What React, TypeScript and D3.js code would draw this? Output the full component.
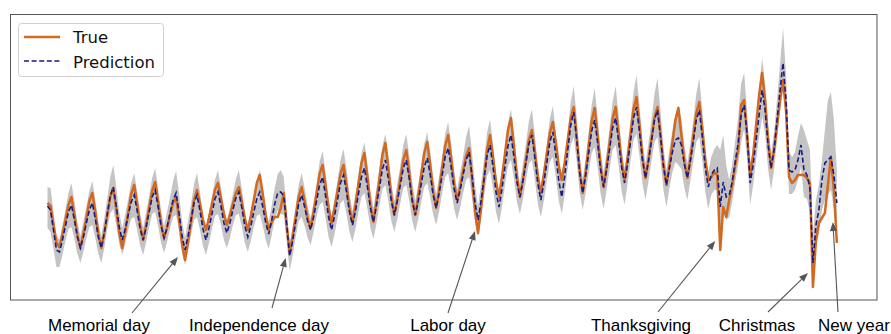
import React from 'react';
import * as d3 from 'd3';

// Daily series, starting Thu 2017-04-13 (one value per day)
const START = Date.UTC(2017, 3, 13);

const trueVals = [
  97, 94, 75, 57,
  53, 66, 80, 95, 103, 85, 65,
  52, 66, 82, 99, 107, 88, 66,
  52, 67, 85, 103, 112, 91, 67,
  52, 68, 87, 106, 115, 96, 74,
  60, 75, 92, 109, 118, 98, 76,
  62, 72, 85, 97, 103, 81, 56,
  40, 58, 78, 100, 110, 96, 80,
  70, 82, 96, 110, 117, 102, 86,
  75, 85, 96, 107, 113, 98, 81,
  70, 84, 100, 117, 125, 106, 84,
  70, 78, 83, 83, 92, 107, 75,
  47, 64, 83, 103, 113, 99, 82,
  72, 88, 107, 126, 135, 115, 92,
  77, 92, 109, 126, 135, 115, 92,
  77, 95, 116, 137, 147, 123, 95,
  78, 98, 121, 145, 157, 132, 103,
  85, 101, 121, 140, 150, 127, 101,
  85, 103, 125, 147, 158, 135, 108,
  92, 110, 132, 154, 165, 142, 116,
  100, 113, 129, 144, 152, 122, 88,
  67, 92, 121, 150, 165, 143, 118,
  103, 123, 146, 170, 182, 154, 123,
  103, 120, 140, 160, 170, 148, 123,
  107, 125, 146, 167, 178, 158, 134,
  120, 138, 160, 182, 193, 163, 129,
  107, 128, 154, 179, 192, 164, 133,
  113, 133, 157, 181, 193, 167, 138,
  120, 141, 166, 191, 203, 175, 142,
  122, 140, 161, 182, 193, 166, 135,
  115, 134, 157, 180, 192, 165, 138,
  122, 141, 164, 187, 198, 171, 140,
  120, 123, 128, 125, 50, 93, 83,
  100, 115, 135, 150, 195, 200, 165,
  125, 145, 175, 205, 227, 200, 160,
  132, 150, 175, 200, 220, 190, 123,
  117, 120, 125, 125, 125, 122, 117,
  13, 60, 77, 82, 87, 115, 143,
  110, 57,
];

const predVals = [
  94, 90, 70, 50,
  48, 60, 74, 88, 95, 80, 63,
  52, 63, 77, 90, 97, 81, 63,
  52, 67, 86, 104, 113, 94, 73,
  60, 71, 85, 98, 105, 89, 71,
  60, 73, 88, 103, 110, 93, 74,
  62, 73, 87, 100, 107, 87, 64,
  50, 64, 80, 97, 105, 89, 71,
  60, 72, 86, 101, 108, 94, 77,
  67, 77, 90, 102, 108, 92, 74,
  63, 74, 88, 101, 108, 93, 77,
  66, 80, 96, 107, 108, 104, 75,
  44, 59, 78, 96, 105, 93, 79,
  70, 83, 99, 115, 123, 104, 83,
  70, 84, 100, 117, 125, 108, 88,
  75, 89, 106, 123, 132, 113, 92,
  78, 94, 112, 131, 140, 121, 99,
  85, 99, 115, 132, 140, 121, 99,
  85, 99, 116, 133, 142, 125, 105,
  92, 107, 125, 143, 152, 133, 111,
  97, 110, 125, 140, 148, 124, 97,
  80, 99, 121, 144, 155, 133, 108,
  93, 111, 133, 154, 165, 143, 118,
  103, 119, 137, 156, 165, 142, 116,
  100, 117, 137, 158, 168, 145, 119,
  103, 124, 150, 175, 188, 160, 127,
  107, 125, 147, 169, 180, 157, 130,
  113, 130, 151, 172, 182, 159, 133,
  117, 136, 159, 182, 193, 168, 140,
  122, 139, 159, 180, 190, 164, 134,
  115, 132, 148, 160, 162, 155, 136,
  122, 139, 159, 180, 190, 163, 132,
  113, 125, 130, 132, 93, 118, 103,
  105, 118, 138, 157, 185, 195, 165,
  117, 135, 160, 185, 210, 190, 155,
  132, 150, 180, 210, 237, 200, 130,
  128, 130, 140, 155, 130, 125, 112,
  37, 75, 90, 120, 137, 140, 143,
  125, 97,
];

const upperVals = [
  113, 112, 89, 65,
  60, 75, 90, 107, 117, 99, 78,
  64, 78, 93, 109, 119, 100, 78,
  64, 82, 102, 123, 135, 113, 88,
  72, 86, 101, 117, 127, 108, 86,
  72, 88, 104, 122, 132, 112, 89,
  74, 88, 103, 119, 129, 106, 79,
  62, 79, 96, 116, 127, 108, 86,
  72, 87, 102, 120, 130, 113, 92,
  79, 92, 106, 121, 130, 111, 89,
  75, 89, 104, 120, 130, 112, 92,
  78, 95, 112, 126, 130, 123, 90,
  56, 74, 94, 115, 127, 112, 94,
  82, 98, 115, 138, 149, 127, 101,
  84, 101, 119, 140, 151, 131, 106,
  89, 106, 125, 146, 158, 136, 110,
  92, 111, 131, 154, 166, 144, 117,
  99, 116, 134, 155, 166, 144, 117,
  99, 116, 135, 156, 168, 148, 123,
  106, 124, 144, 166, 178, 156, 129,
  111, 127, 144, 163, 174, 147, 115,
  94, 116, 140, 167, 181, 156, 126,
  107, 128, 152, 177, 191, 166, 136,
  117, 136, 156, 179, 191, 165, 134,
  114, 134, 156, 181, 194, 168, 137,
  117, 141, 169, 198, 214, 183, 145,
  121, 142, 168, 195, 212, 183, 149,
  128, 148, 172, 198, 214, 185, 152,
  132, 154, 180, 208, 225, 194, 159,
  137, 157, 180, 206, 222, 190, 153,
  130, 150, 169, 186, 194, 181, 155,
  137, 157, 180, 206, 222, 189, 151,
  128, 143, 151, 155, 150, 165, 135,
  120, 136, 159, 183, 217, 227, 187,
  132, 153, 181, 211, 242, 216, 174,
  147, 168, 201, 236, 272, 226, 149,
  143, 148, 164, 177, 170, 160, 150,
  65, 100, 115, 140, 170, 200, 208,
  180, 130,
];

const lowerVals = [
  72, 68, 51, 33,
  33, 45, 59, 71, 73, 61, 46,
  37, 48, 62, 73, 75, 62, 46,
  37, 52, 71, 87, 91, 75, 56,
  45, 56, 70, 81, 83, 70, 54,
  45, 58, 73, 86, 88, 74, 57,
  47, 58, 72, 83, 85, 68, 47,
  35, 49, 65, 80, 83, 70, 54,
  45, 57, 71, 84, 86, 75, 60,
  52, 62, 75, 85, 86, 73, 57,
  48, 59, 73, 84, 86, 74, 60,
  51, 65, 81, 90, 86, 85, 58,
  29, 44, 63, 79, 83, 74, 62,
  55, 68, 84, 95, 98, 82, 63,
  53, 66, 82, 97, 100, 86, 68,
  58, 71, 88, 103, 107, 91, 72,
  61, 76, 94, 111, 115, 99, 79,
  68, 81, 97, 112, 115, 99, 79,
  68, 81, 98, 113, 117, 103, 85,
  75, 89, 107, 123, 127, 111, 91,
  80, 92, 107, 120, 123, 102, 77,
  63, 81, 103, 124, 130, 111, 88,
  76, 93, 115, 134, 140, 121, 98,
  86, 101, 119, 136, 140, 120, 96,
  83, 99, 119, 138, 143, 123, 99,
  86, 106, 132, 155, 163, 138, 107,
  90, 107, 127, 147, 153, 133, 106,
  91, 110, 131, 150, 155, 135, 109,
  95, 116, 139, 160, 166, 144, 116,
  100, 119, 139, 158, 163, 140, 110,
  93, 112, 128, 138, 135, 131, 112,
  100, 119, 139, 158, 163, 139, 108,
  91, 105, 110, 110, 68, 95, 80,
  83, 98, 118, 135, 158, 171, 141,
  95, 115, 140, 163, 183, 166, 131,
  110, 130, 160, 188, 210, 176, 106,
  106, 110, 120, 133, 103, 101, 88,
  15, 52, 66, 90, 100, 105, 110,
  92, 72,
];

const seriesLabels = ['True', 'Prediction'];

// Holiday annotations: label and the date of the dip the arrow points at
const holidayLabels = ['Memorial day', 'Independence day', 'Labor day', 'Thanksgiving', 'Christmas', 'New year'];
const holidayDates = ['2017-05-29', '2017-07-03', '2017-09-04', '2017-11-24', '2017-12-25', '2018-01-01'];

// Layout of annotation labels/arrows (pixels)
const annotLayout = [
  { lx: 99, tx: 132, ty: 313, dx: -7, dy: -3 },
  { lx: 259, tx: 272, ty: 308, dx: -4, dy: 5 },
  { lx: 448, tx: 448, ty: 313, dx: -3, dy: -2 },
  { lx: 641, tx: 658, ty: 312, dx: -5, dy: -9 },
  { lx: 757, tx: 768, ty: 312, dx: -5, dy: -14 },
  { lx: 854, tx: 838, ty: 312, dx: -1, dy: 32 },
];

const W = 891;
const H = 334;
const frame = { left: 10.5, top: 14.5, right: 877, bottom: 300 };

const ORANGE = '#d2691e';
const NAVY = '#1a1a80';
const BAND = '#c4c4c4';

export default function App() {
  const dates = trueVals.map((_, i) => new Date(START + i * 86400000));
  const x = d3.scaleUtc().domain([dates[0], dates[dates.length - 1]]).range([47.5, 47.5 + 2.99 * (dates.length - 1)]);
  const y = d3.scaleLinear().domain([0, 285]).range([300, 15]);

  const idx = d3.range(trueVals.length);
  const area = d3.area<number>()
    .x((i) => x(dates[i]))
    .y0((i) => y(lowerVals[i]))
    .y1((i) => y(upperVals[i]));
  const lineT = d3.line<number>().x((i) => x(dates[i])).y((i) => y(trueVals[i]));
  const lineP = d3.line<number>().x((i) => x(dates[i])).y((i) => y(predVals[i]));

  const parse = d3.utcParse('%Y-%m-%d');

  const annots = holidayLabels.map((label, k) => {
    const dt = parse(holidayDates[k]) as Date;
    const i = Math.round((dt.getTime() - START) / 86400000);
    const L = annotLayout[k];
    const hx = x(dt) + L.dx;
    const hy = y(trueVals[i]) + L.dy;
    const vx = hx - L.tx;
    const vy = hy - L.ty;
    const len = Math.sqrt(vx * vx + vy * vy);
    const ux = vx / len;
    const uy = vy / len;
    const hl = 9;
    const hw = 3.5;
    const bx = hx - ux * hl;
    const by = hy - uy * hl;
    const pts = [
      [hx, hy],
      [bx - uy * hw, by + ux * hw],
      [bx + uy * hw, by - ux * hw],
    ];
    return { label, L, hx, hy, bx, by, pts };
  });

  return (
    <svg width={W} height={H} style={{ position: 'absolute', left: 0, top: 0, background: '#fff' }}>
      <path d={area(idx) || ''} fill={BAND} stroke="none" />
      <path d={lineT(idx) || ''} fill="none" stroke={ORANGE} strokeWidth={2.5} strokeLinejoin="round" />
      <path d={lineP(idx) || ''} fill="none" stroke={NAVY} strokeWidth={1.6} strokeDasharray="5,2.6" />
      <rect x={frame.left} y={frame.top} width={frame.right - frame.left} height={frame.bottom - frame.top}
        fill="none" stroke="#555" strokeWidth={1} />
      <g>
        <rect x={18.5} y={23.5} width={145} height={53} rx={3} fill="#fff" fillOpacity={0.85} stroke="#d0d0d0" strokeWidth={1} />
        <line x1={24} x2={60} y1={37} y2={37} stroke={ORANGE} strokeWidth={2.5} />
        <line x1={24} x2={60} y1={61} y2={61} stroke={NAVY} strokeWidth={1.6} strokeDasharray="5,2.6" />
        <text x={73} y={43} fontFamily="DejaVu Sans" fontSize={16.5} fill="#111">{seriesLabels[0]}</text>
        <text x={73} y={67.5} fontFamily="DejaVu Sans" fontSize={16.5} fill="#111">{seriesLabels[1]}</text>
      </g>
      {annots.map((a, k) => (
        <g key={k}>
          <line x1={a.L.tx} y1={a.L.ty} x2={a.bx} y2={a.by} stroke="#555" strokeWidth={1.1} />
          <polygon points={a.pts.map((p) => p.join(',')).join(' ')} fill="#555" />
          <text x={a.L.lx} y={331} textAnchor="middle" fontFamily="'Liberation Sans', Arial, sans-serif" fontSize={17} fill="#000">
            {a.label}
          </text>
        </g>
      ))}
    </svg>
  );
}
